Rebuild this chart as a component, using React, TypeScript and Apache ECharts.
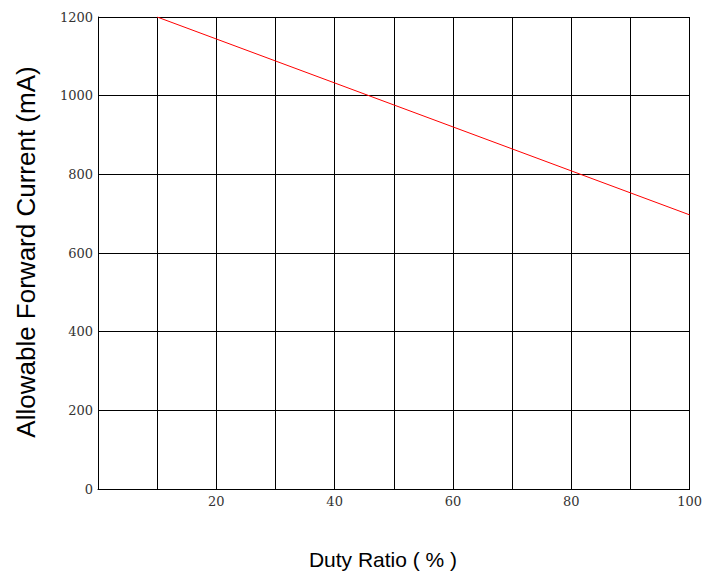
import React, { useEffect, useRef } from "react";
import * as echarts from "echarts";

const dutyRatio = [10, 100];
const forwardCurrent = [1200, 697];
const xTitle = "Duty Ratio ( % )";
const yTitle = "Allowable Forward Current (mA)";

export default function App() {
  const ref = useRef<HTMLDivElement>(null);
  useEffect(() => {
    document.body.style.margin = "0";
    const chart = echarts.init(ref.current!, null, { renderer: "svg" });
    chart.setOption({
      animation: false,
      backgroundColor: "#ffffff",
      grid: { left: 98, right: 15, top: 17, bottom: 87, containLabel: false },
      xAxis: {
        type: "value",
        min: 0,
        max: 100,
        interval: 10,
        axisLine: { show: true, lineStyle: { color: "#000", width: 1 } },
        axisTick: { show: false },
        splitLine: { show: true, lineStyle: { color: "#000", width: 1 } },
        axisLabel: {
          margin: 6,
          color: "#333",
          fontFamily: "DejaVu Serif",
          fontSize: 13,
          formatter: (v: number) => (v > 0 && v % 20 === 0 ? String(v) : ""),
        },
      },
      yAxis: {
        type: "value",
        min: 0,
        max: 1200,
        interval: 200,
        axisLine: { show: true, lineStyle: { color: "#000", width: 1 } },
        axisTick: { show: false },
        splitLine: { show: true, lineStyle: { color: "#000", width: 1 } },
        axisLabel: {
          margin: 5,
          color: "#333",
          fontFamily: "DejaVu Serif",
          fontSize: 13,
          formatter: (v: number) => String(v),
        },
      },
      graphic: [
        {
          type: "text",
          x: 383,
          y: 559,
          style: {
            text: xTitle,
            fontFamily: "Liberation Sans",
            fontSize: 21,
            fill: "#000",
            textAlign: "center",
            textVerticalAlign: "middle",
          },
        },
        {
          type: "text",
          x: 26,
          y: 252,
          rotation: Math.PI / 2,
          style: {
            text: yTitle,
            fontFamily: "Liberation Sans",
            fontSize: 26,
            fill: "#000",
            textAlign: "center",
            textVerticalAlign: "middle",
          },
        },
      ],
      series: [
        {
          type: "line",
          data: dutyRatio.map((x, i) => [x, forwardCurrent[i]]),
          showSymbol: false,
          lineStyle: { color: "#ff0000", width: 1 },
        },
      ],
    });
    return () => chart.dispose();
  }, []);
  return <div ref={ref} style={{ width: 705, height: 576 }} />;
}
